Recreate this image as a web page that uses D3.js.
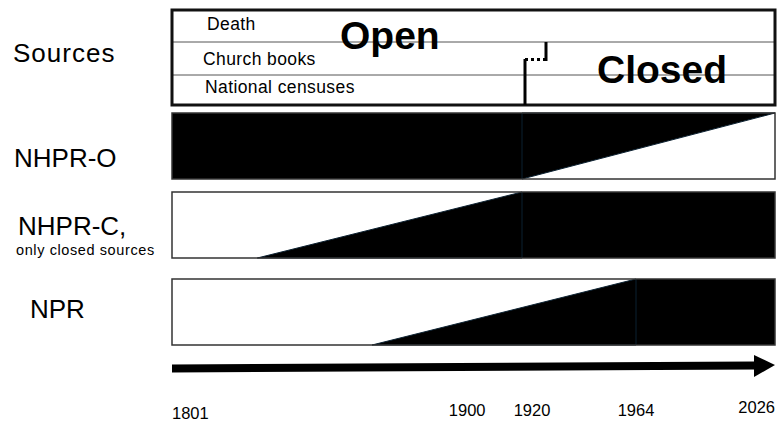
<!DOCTYPE html>
<html>
<head>
<meta charset="utf-8">
<script src="https://cdn.jsdelivr.net/npm/d3@7/dist/d3.min.js"></script>
<style>
  html, body { margin: 0; padding: 0; background: #fff; }
  svg { display: block; }
  text { font-family: "Liberation Sans", Arial, sans-serif; fill: #000; }
</style>
</head>
<body>
<svg id="chart" width="777" height="423"></svg>
<script>
// ---------- data ----------
const tickYears = [1801, 1900, 1920, 1964, 2026];
const scaleYears = [1801, 1920, 1964, 2026];
const sourceNames = ["Death", "Church books", "National censuses"];
const sourceLabel = "Sources";
const periodLabels = ["Open", "Closed"];
const openClosedSplitYear = 1920;

const rowNames = ["NHPR-O", "NHPR-C,", "NPR"];
const rowSubtitles = ["", "only closed sources", ""];
// ramp: from year with 0 coverage to year with full coverage (reversed for NHPR-O)
const rampFrom = [2026, 1830, 1869];
const rampTo   = [1920, 1920, 1964];
const solidFrom = [1801, 1920, 1964];
const solidTo   = [1920, 2026, 2026];

// ---------- layout ----------
const svg = d3.select("#chart");
const x = d3.scaleLinear().domain(scaleYears).range([172, 522, 636, 775]);

// ---------- sources box ----------
const boxTop = 10, boxBottom = 105;
const lineYs = [42, 75];
const g = svg.append("g");

g.selectAll("line.sep").data(lineYs).join("line")
  .attr("x1", x(1801)).attr("x2", x(2026))
  .attr("y1", d => d).attr("y2", d => d)
  .attr("stroke", "#555").attr("stroke-width", 1);

g.append("rect")
  .attr("x", x(1801)).attr("y", boxTop)
  .attr("width", x(2026) - x(1801)).attr("height", boxBottom - boxTop)
  .attr("fill", "none").attr("stroke", "#111").attr("stroke-width", 3);

const srcBase = [30, 65, 93];
const srcX = [207, 203, 205];
g.selectAll("text.src").data(sourceNames).join("text")
  .attr("x", (d, i) => srcX[i]).attr("y", (d, i) => srcBase[i])
  .attr("font-size", 17.5).attr("letter-spacing", 0.4).text(d => d);

g.append("text").attr("x", 340).attr("y", 49)
  .attr("font-size", 39).attr("font-weight", "bold").text(periodLabels[0]);
g.append("text").attr("x", 597).attr("y", 83)
  .attr("font-size", 39).attr("font-weight", "bold").text(periodLabels[1]);

// step marker
const sx = x(openClosedSplitYear) + 3;
g.append("line").attr("x1", sx).attr("x2", sx).attr("y1", boxBottom).attr("y2", 59)
  .attr("stroke", "#000").attr("stroke-width", 3);
g.append("line").attr("x1", sx).attr("x2", sx + 21).attr("y1", 59.5).attr("y2", 59.5)
  .attr("stroke", "#000").attr("stroke-width", 3).attr("stroke-dasharray", "3,3");
g.append("line").attr("x1", sx + 21).attr("x2", sx + 21).attr("y1", 61).attr("y2", 42)
  .attr("stroke", "#000").attr("stroke-width", 3);

svg.append("text").attr("x", 13).attr("y", 62).attr("font-size", 26)
  .attr("letter-spacing", 1).text(sourceLabel);

// ---------- rows ----------
const rowTop = [113, 192, 279];
const rowH = 66;
rowNames.forEach((name, i) => {
  const t = rowTop[i], b = t + rowH;
  const rg = svg.append("g");
  rg.append("rect").attr("x", x(1801)).attr("y", t)
    .attr("width", x(2026) - x(1801)).attr("height", rowH)
    .attr("fill", "#fff");
  rg.append("rect").attr("x", x(solidFrom[i])).attr("y", t)
    .attr("width", x(solidTo[i]) - x(solidFrom[i])).attr("height", rowH)
    .attr("fill", "#000");
  let pts;
  if (rampFrom[i] > rampTo[i]) {
    pts = [[x(rampTo[i]), t], [x(rampTo[i]), b], [x(rampFrom[i]), t]];
  } else {
    pts = [[x(rampFrom[i]), b], [x(rampTo[i]), t], [x(rampTo[i]), b]];
  }
  rg.append("path").attr("d", d3.line()(pts) + "Z").attr("fill", "#000")
    .attr("stroke", "#0b2030").attr("stroke-width", 1);
  rg.append("rect").attr("x", x(1801)).attr("y", t)
    .attr("width", x(2026) - x(1801)).attr("height", rowH)
    .attr("fill", "none").attr("stroke", "#333").attr("stroke-width", 1.5);
});

const nameX = [14, 18, 30];
const nameBase = [167, 235, 318];
svg.selectAll("text.row").data(rowNames).join("text")
  .attr("x", (d, i) => nameX[i]).attr("y", (d, i) => nameBase[i])
  .attr("font-size", 26).text(d => d);
svg.append("text").attr("x", 16).attr("y", 255).attr("font-size", 14.5)
  .attr("letter-spacing", 0.6).text(rowSubtitles[1]);

// ---------- time arrow ----------
const ay = 367;
svg.append("line").attr("x1", x(1801)).attr("x2", x(2026) - 20)
  .attr("y1", ay + 1.5).attr("y2", ay - 1.5)
  .attr("stroke", "#000").attr("stroke-width", 8);
svg.append("path")
  .attr("d", d3.line()([[x(2026) - 21, ay - 12], [x(2026), ay - 2], [x(2026) - 21, ay + 10]]) + "Z")
  .attr("fill", "#000");

// ---------- tick labels ----------
const tickAnchor = d => d === 1801 ? "start" : d === 2026 ? "end" : "middle";
const tickBase = d => d === 1801 ? 419 : d === 2026 ? 413 : 416;
const tickDx = d => d === 1920 ? 10 : d === 1900 ? 4 : 0;
svg.selectAll("text.tick").data(tickYears).join("text")
  .attr("x", d => x(d) + tickDx(d)).attr("y", d => tickBase(d))
  .attr("text-anchor", d => tickAnchor(d))
  .attr("font-size", 16.5).text(d => d);
</script>
</body>
</html>
